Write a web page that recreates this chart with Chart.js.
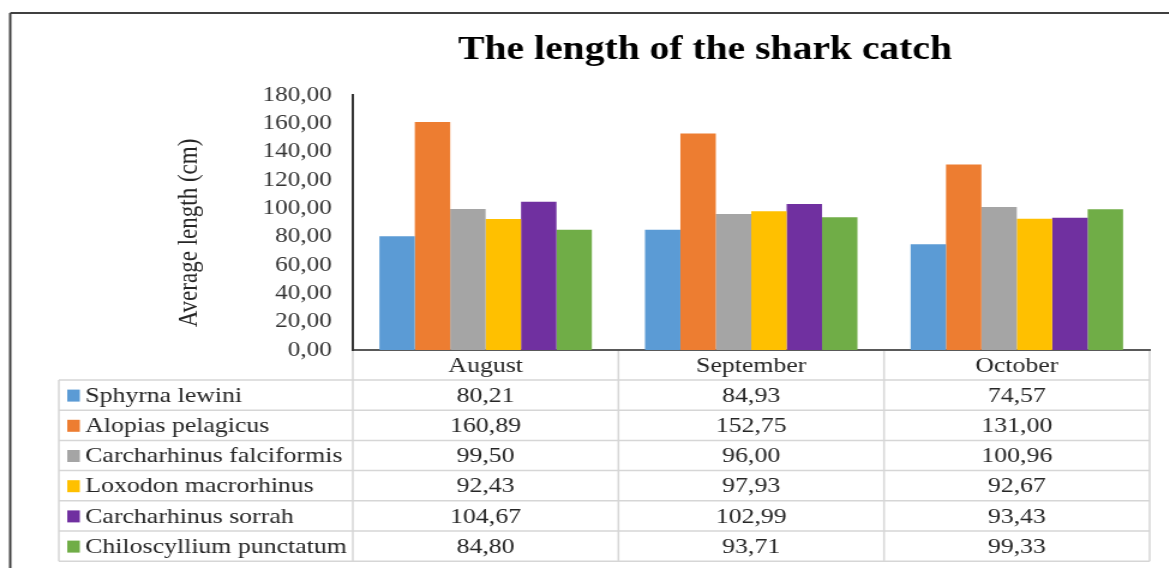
<!DOCTYPE html>
<html>
<head>
<meta charset="utf-8">
<title>The length of the shark catch</title>
<script src="https://cdn.jsdelivr.net/npm/chart.js@4.4.1/dist/chart.umd.min.js"></script>
<style>
  html, body { margin: 0; padding: 0; background: #fff; overflow: hidden; }
  /* the chart is laid out narrow and widened, so the serif text comes out broad */
  #wrap { width: 974px; height: 568px; transform: scaleX(1.2); transform-origin: 0 0; }
</style>
</head>
<body>
<div id="wrap"><canvas id="sharkChart"></canvas></div>
<script>
const months = ['August', 'September', 'October'];
const species = [
  'Sphyrna lewini',
  'Alopias pelagicus',
  'Carcharhinus falciformis',
  'Loxodon macrorhinus',
  'Carcharhinus sorrah',
  'Chiloscyllium punctatum'
];
const speciesColors = ['#5B9BD5', '#ED7D31', '#A5A5A5', '#FFC000', '#7030A0', '#70AD47'];

// average length (cm) per month
const sphyrnaLewini = [80.21, 84.93, 74.57];
const alopiasPelagicus = [160.89, 152.75, 131.00];
const carcharhinusFalciformis = [99.50, 96.00, 100.96];
const loxodonMacrorhinus = [92.43, 97.93, 92.67];
const carcharhinusSorrah = [104.67, 102.99, 93.43];
const chiloscylliumPunctatum = [84.80, 93.71, 99.33];
const seriesValues = [
  sphyrnaLewini, alopiasPelagicus, carcharhinusFalciformis,
  loxodonMacrorhinus, carcharhinusSorrah, chiloscylliumPunctatum
];

const yMin = 0;
const yMax = 180;
const yStep = 20;
const yTitle = 'Average length (cm)';

const SERIF = "'Liberation Serif', 'Times New Roman', serif";
const fmt = v => v.toFixed(2).replace('.', ',');

// frame, titles and the data table under the plot
const tablePlugin = {
  id: 'dataTable',
  afterDraw(chart) {
    const { ctx, chartArea, scales: { x } } = chart;
    ctx.save();

    // outer frame (top and left edges)
    ctx.strokeStyle = '#404040';
    ctx.lineWidth = 2;
    ctx.beginPath();
    ctx.moveTo(8.5, 13);
    ctx.lineTo(chart.width, 13);
    ctx.moveTo(8.5, 13);
    ctx.lineTo(8.5, chart.height);
    ctx.stroke();

    // title
    ctx.fillStyle = '#000';
    ctx.font = 'bold 33px ' + SERIF;
    ctx.textAlign = 'center';
    ctx.textBaseline = 'alphabetic';
    ctx.fillText('The length of the shark catch', 587.5, 59);

    // value axis title
    ctx.save();
    ctx.translate(157.5, 233);
    ctx.rotate(-Math.PI / 2);
    ctx.fillStyle = '#262626';
    ctx.font = '23px ' + SERIF;
    ctx.textBaseline = 'middle';
    ctx.fillText(yTitle, 0, 0);
    ctx.restore();

    const colW = (x.right - x.left) / months.length;
    const headTop = chartArea.bottom + 1;
    const headBottom = headTop + 29;
    const rowH = 30.2;
    const tableLeft = 49;
    const tableBottom = headBottom + rowH * species.length;

    // grid lines
    ctx.strokeStyle = '#d6d6d6';
    ctx.lineWidth = 1.5;
    ctx.beginPath();
    for (let i = 0; i <= months.length; i++) {
      const cx = x.left + i * colW;
      ctx.moveTo(cx, headTop);
      ctx.lineTo(cx, tableBottom);
    }
    ctx.moveTo(tableLeft, headBottom);
    ctx.lineTo(tableLeft, tableBottom);
    for (let r = 0; r <= species.length; r++) {
      const ry = headBottom + r * rowH;
      ctx.moveTo(tableLeft, ry);
      ctx.lineTo(x.right, ry);
    }
    ctx.stroke();

    ctx.fillStyle = '#262626';
    ctx.font = '21.5px ' + SERIF;
    ctx.textBaseline = 'middle';

    // month headers
    ctx.textAlign = 'center';
    months.forEach((m, i) => {
      ctx.fillText(m, x.getPixelForValue(i), (headTop + headBottom) / 2 + 1);
    });

    // species rows with colour keys and values
    species.forEach((name, r) => {
      const cy = headBottom + r * rowH + rowH / 2 + 1;
      ctx.fillStyle = speciesColors[r];
      ctx.fillRect(56, cy - 6.5, 10.5, 12);
      ctx.fillStyle = '#262626';
      ctx.textAlign = 'left';
      ctx.fillText(name, 71, cy);
      ctx.textAlign = 'center';
      seriesValues[r].forEach((v, i) => {
        ctx.fillText(fmt(v), x.getPixelForValue(i), cy);
      });
    });

    ctx.restore();
  }
};

new Chart(document.getElementById('sharkChart'), {
  type: 'bar',
  data: {
    labels: months,
    datasets: species.map((name, i) => ({
      label: name,
      data: seriesValues[i],
      backgroundColor: speciesColors[i],
      borderWidth: 0,
      categoryPercentage: 0.8,
      barPercentage: 1.0
    }))
  },
  options: {
    responsive: true,
    maintainAspectRatio: false,
    animation: false,
    layout: {
      padding: { top: 95, left: 140, right: 16, bottom: 210 }
    },
    plugins: {
      legend: { display: false },
      title: { display: false },
      tooltip: { enabled: false }
    },
    scales: {
      x: {
        grid: { display: false },
        border: { display: true, color: '#595959', width: 2 },
        ticks: { display: false }
      },
      y: {
        min: yMin,
        max: yMax,
        grid: { display: false, drawTicks: false },
        border: { display: true, color: '#333', width: 2 },
        ticks: {
          stepSize: yStep,
          autoSkip: false,
          padding: 17.5,
          color: '#333',
          font: { family: SERIF, size: 21 },
          callback: v => fmt(v)
        },
        afterFit(scale) {
          scale.width = 154;
        }
      }
    }
  },
  plugins: [tablePlugin]
});
</script>
</body>
</html>
